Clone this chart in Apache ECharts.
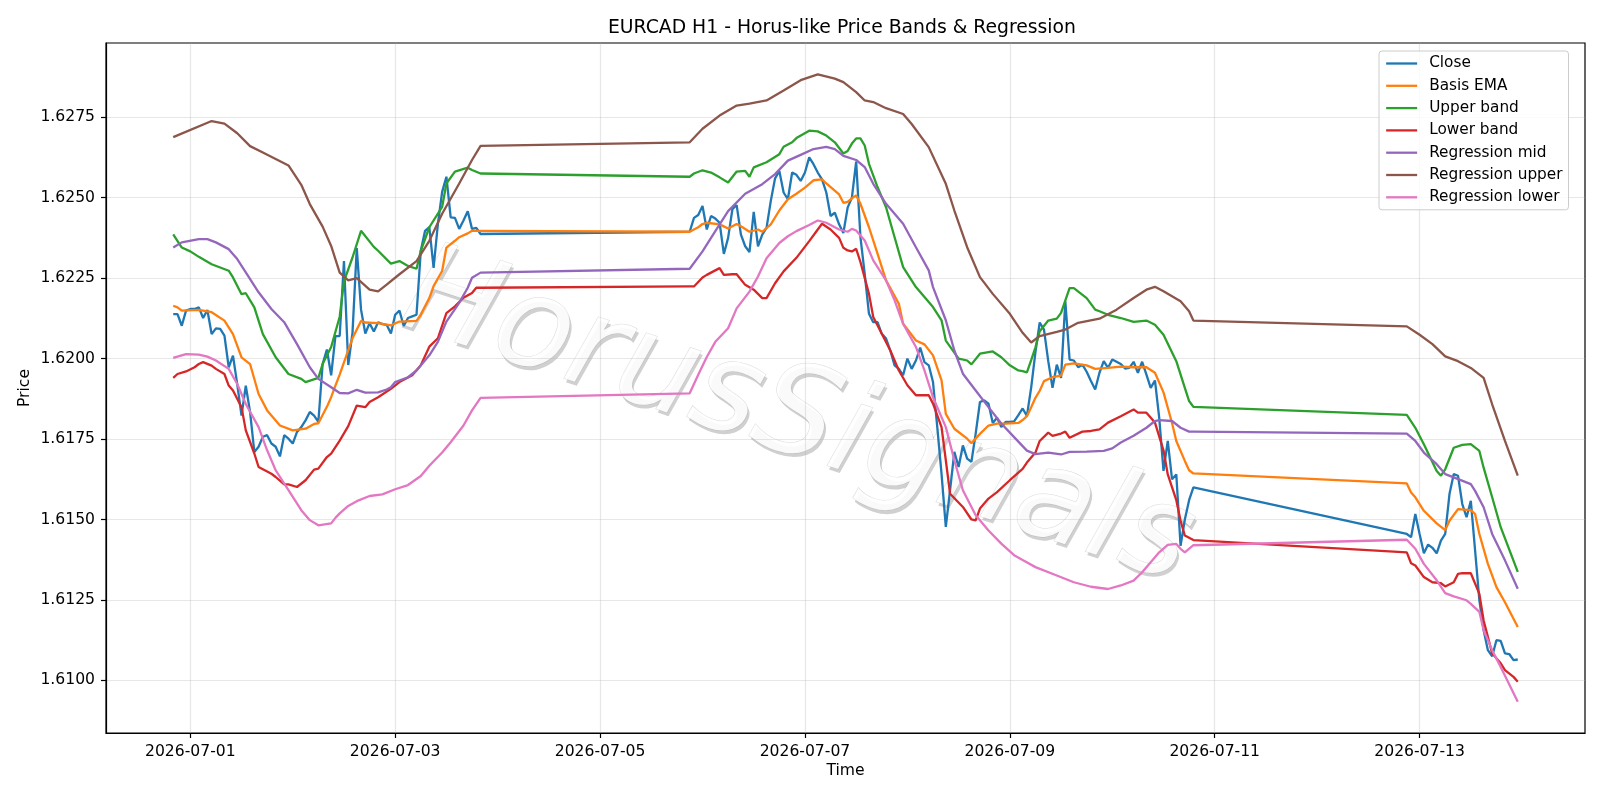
<!DOCTYPE html>
<html>
<head>
<meta charset="utf-8">
<title>EURCAD H1 - Horus-like Price Bands & Regression</title>
<script src="https://cdn.jsdelivr.net/npm/echarts@6/dist/echarts.min.js"></script>
<style>
  html, body { margin: 0; padding: 0; background: #fff; }
  #chart { width: 1600px; height: 800px; }
</style>
</head>
<body>
<div id="chart"></div>
<script>
// x values are hours counted from 2026-07-01 00:00
var xTickHours = [0, 48, 96, 144, 192, 240, 288];
var xTickLabels = ['2026-07-01', '2026-07-03', '2026-07-05', '2026-07-07', '2026-07-09', '2026-07-11', '2026-07-13'];
var yTicks = [1.6100, 1.6125, 1.6150, 1.6175, 1.6200, 1.6225, 1.6250, 1.6275];

// hourly closes, three trading blocks (weekends skipped)
var closeStart1 = -4;
var close1 = [1.62138, 1.62138, 1.62102, 1.62149, 1.62154, 1.62154, 1.62159, 1.62126, 1.62151, 1.62076,
  1.62094, 1.62092, 1.62071, 1.61973, 1.62009, 1.61920, 1.61823, 1.61916, 1.61834, 1.61710,
  1.61726, 1.61757, 1.61762, 1.61736, 1.61726, 1.61696, 1.61762, 1.61751, 1.61736, 1.61772,
  1.61787, 1.61808, 1.61834, 1.61823, 1.61803, 1.61983, 1.62028, 1.61948, 1.62070, 1.62070,
  1.62303, 1.61980, 1.62080, 1.62343, 1.62152, 1.62078, 1.62110, 1.62084, 1.62113, 1.62107,
  1.62105, 1.62078, 1.62136, 1.62149, 1.62101, 1.62126, 1.62131, 1.62136, 1.62335, 1.62397,
  1.62408, 1.62282, 1.62418, 1.62518, 1.62565, 1.62439, 1.62437, 1.62403, 1.62429, 1.62458,
  1.62403, 1.62406, 1.62387];
var closeStart2 = 117;
var close2 = [1.62394, 1.62437, 1.62446, 1.62474, 1.62401, 1.62443, 1.62435, 1.62422, 1.62325, 1.62375,
  1.62464, 1.62477, 1.62385, 1.62349, 1.62331, 1.62456, 1.62349, 1.62385, 1.62406, 1.62490,
  1.62560, 1.62583, 1.62516, 1.62495, 1.62578, 1.62571, 1.62552, 1.62578, 1.62625, 1.62604,
  1.62578, 1.62557, 1.62516, 1.62443, 1.62453, 1.62417, 1.62390, 1.62469, 1.62500, 1.62612,
  1.62377, 1.62263, 1.62139, 1.62113, 1.62113, 1.62077, 1.62062, 1.62025, 1.61979, 1.61968,
  1.61948, 1.62000, 1.61968, 1.61994, 1.62034, 1.61989, 1.61979, 1.61927, 1.61787, 1.61642,
  1.61477, 1.61591, 1.61710, 1.61663, 1.61730, 1.61689, 1.61679, 1.61767, 1.61865, 1.61870,
  1.61860, 1.61800, 1.61816, 1.61787, 1.61803, 1.61803, 1.61805, 1.61824, 1.61845, 1.61822,
  1.61910, 1.62020, 1.62112, 1.62090, 1.61992, 1.61909, 1.61981, 1.61940, 1.62178, 1.61997,
  1.61994, 1.61973, 1.61981, 1.61959, 1.61930, 1.61904, 1.61956, 1.61992, 1.61971, 1.61997,
  1.61990, 1.61983, 1.61969, 1.61971, 1.61990, 1.61956, 1.61990, 1.61950, 1.61909, 1.61932,
  1.61816, 1.61651, 1.61744, 1.61625, 1.61640, 1.61418, 1.61500, 1.61560, 1.61600];
var closeStart3 = 285;
var close3 = [1.61455, 1.61445, 1.61517, 1.61455, 1.61395, 1.61422, 1.61412, 1.61395, 1.61434, 1.61455,
  1.61579, 1.61641, 1.61636, 1.61548, 1.61507, 1.61558, 1.61404, 1.61249, 1.61156, 1.61094,
  1.61075, 1.61125, 1.61123, 1.61084, 1.61082, 1.61063, 1.61065];

// smoother lines, read as [hour, price]
var basisEma = [[-4,1.62164],[-3,1.62159],[-2,1.62149],[2,1.62151],[5,1.62144],[8,1.62118],[10,1.62076],[12,1.62004],
  [14,1.61983],[16,1.61890],[18,1.61839],[21,1.61792],[24,1.61777],[27,1.61782],[29,1.61797],[30,1.61799],
  [32,1.61850],[33,1.61880],[34,1.61916],[35,1.61950],[36,1.61988],[38,1.62063],[40,1.62117],[41,1.62112],
  [44,1.62110],[47,1.62103],[49,1.62115],[53,1.62117],[54,1.62136],[56,1.62188],[57,1.62225],[59,1.62272],
  [60,1.62345],[62,1.62366],[63,1.62377],[65,1.62389],[66,1.62397],[68,1.62397],
  [117,1.62394],[119,1.62408],[120,1.62418],[121,1.62422],[124,1.62417],[126,1.62404],[128,1.62418],[129,1.62411],
  [131,1.62394],[133,1.62401],[134,1.62394],[136,1.62417],[138,1.62460],[140,1.62495],[142,1.62512],[144,1.62531],
  [146,1.62554],[148,1.62557],[149,1.62544],[152,1.62510],[153,1.62484],[154,1.62487],[155,1.62498],[156,1.62507],
  [157,1.62481],[159,1.62408],[161,1.62326],[163,1.62243],[166,1.62170],[167,1.62108],[170,1.62056],[172,1.62044],
  [174,1.62010],[176,1.61932],[177,1.61828],[179,1.61782],[182,1.61751],[183,1.61737],[185,1.61766],[187,1.61792],
  [189,1.61798],[191,1.61798],[194,1.61800],[195,1.61809],[196,1.61821],[197,1.61849],[198,1.61878],[199,1.61900],
  [200,1.61930],[202,1.61942],[204,1.61947],[205,1.61981],[207,1.61985],[210,1.61979],[212,1.61968],[215,1.61971],
  [218,1.61975],[221,1.61973],[224,1.61973],[226,1.61956],[228,1.61895],[230,1.61800],[231,1.61744],[233,1.61682],
  [234,1.61653],[235,1.61643],
  [285,1.61612],[286,1.61584],[287,1.61569],[289,1.61527],[292,1.61488],[294,1.61467],[295,1.61496],[297,1.61532],
  [300,1.61529],[301,1.61517],[302,1.61455],[304,1.61362],[306,1.61290],[308,1.61243],[311,1.61166]];

var upperBand = [[-4,1.62386],[-2,1.62345],[0,1.62333],[2,1.62316],[5,1.62293],[7,1.62283],[9,1.62273],[10,1.62252],
  [12,1.62200],[13,1.62203],[15,1.62159],[17,1.62076],[20,1.62004],[23,1.61952],[26,1.61937],[27,1.61927],
  [30,1.61940],[31,1.61983],[33,1.62036],[35,1.62130],[36,1.62240],[38,1.62314],[40,1.62397],[43,1.62347],
  [44,1.62335],[47,1.62295],[49,1.62303],[51,1.62288],[53,1.62279],[54,1.62335],[56,1.62408],[59,1.62471],
  [60,1.62544],[62,1.62581],[65,1.62593],[66,1.62586],[68,1.62575],
  [117,1.62565],[118,1.62575],[120,1.62585],[122,1.62578],[124,1.62563],[126,1.62547],[128,1.62581],[130,1.62583],
  [131,1.62565],[132,1.62594],[135,1.62610],[138,1.62635],[139,1.62658],[141,1.62672],[142,1.62685],[145,1.62708],
  [147,1.62706],[149,1.62693],[151,1.62672],[153,1.62637],[154,1.62645],[155,1.62668],[156,1.62684],[157,1.62684],
  [158,1.62662],[159,1.62605],[161,1.62533],[163,1.62470],[165,1.62377],[167,1.62284],[170,1.62222],[172,1.62191],
  [174,1.62160],[176,1.62119],[177,1.62056],[180,1.62000],[182,1.61994],[183,1.61982],[185,1.62015],[188,1.62022],
  [190,1.62004],[192,1.61979],[194,1.61963],[195,1.61961],[196,1.61957],[197,1.61995],[198,1.62035],[199,1.62085],
  [201,1.62118],[203,1.62124],[204,1.62142],[206,1.62219],[207,1.62219],[210,1.62188],[212,1.62152],[213,1.62147],
  [215,1.62136],[218,1.62126],[221,1.62114],[224,1.62118],[226,1.62105],[228,1.62074],[231,1.61992],[233,1.61909],
  [234,1.61868],[235,1.61850],
  [285,1.61825],[287,1.61785],[289,1.61734],[292,1.61651],[293,1.61636],[294,1.61656],[296,1.61723],[298,1.61732],
  [300,1.61734],[302,1.61713],[303,1.61661],[305,1.61569],[307,1.61476],[311,1.61337]];

var lowerBand = [[-4,1.61940],[-3,1.61952],[-1,1.61960],[1,1.61973],[2,1.61983],[3,1.61989],[5,1.61978],[6,1.61968],
  [8,1.61952],[9,1.61916],[10,1.61901],[12,1.61849],[13,1.61777],[15,1.61705],[16,1.61663],[19,1.61642],
  [20,1.61632],[22,1.61609],[23,1.61609],[25,1.61601],[27,1.61622],[29,1.61655],[30,1.61658],[32,1.61694],
  [33,1.61705],[35,1.61745],[37,1.61790],[39,1.61854],[41,1.61849],[42,1.61865],[44,1.61880],[47,1.61906],
  [49,1.61927],[52,1.61948],[54,1.61979],[56,1.62037],[58,1.62063],[60,1.62141],[62,1.62162],[64,1.62189],
  [66,1.62204],[67,1.62220],[68,1.62220],
  [117,1.62224],[118,1.62224],[120,1.62252],[121,1.62260],[124,1.62281],[125,1.62260],[127,1.62262],[128,1.62262],
  [130,1.62229],[132,1.62214],[134,1.62188],[135,1.62188],[137,1.62234],[139,1.62271],[142,1.62313],[145,1.62365],
  [147,1.62401],[148,1.62419],[150,1.62401],[152,1.62375],[153,1.62344],[154,1.62336],[155,1.62333],[156,1.62341],
  [157,1.62300],[159,1.62201],[160,1.62129],[162,1.62077],[164,1.62025],[166,1.61963],[168,1.61917],[170,1.61886],
  [173,1.61886],[174,1.61860],[176,1.61787],[177,1.61684],[178,1.61580],[181,1.61539],[183,1.61500],[184,1.61497],
  [185,1.61534],[187,1.61565],[189,1.61585],[192,1.61622],[195,1.61657],[196,1.61677],[198,1.61708],[199,1.61744],
  [201,1.61770],[202,1.61760],[204,1.61767],[205,1.61773],[206,1.61754],[209,1.61773],[211,1.61775],[213,1.61780],
  [215,1.61801],[218,1.61821],[221,1.61842],[222,1.61832],[224,1.61832],[226,1.61801],[228,1.61715],[229,1.61640],
  [231,1.61560],[232,1.61496],[233,1.61450],[235,1.61436],
  [285,1.61398],[286,1.61364],[287,1.61357],[289,1.61321],[291,1.61305],[293,1.61302],[294,1.61292],[296,1.61305],
  [297,1.61331],[298,1.61333],[300,1.61333],[302,1.61269],[303,1.61186],[305,1.61084],[307,1.61053],[308,1.61032],
  [310,1.61011],[311,1.60996]];

var regMid = [[-4,1.62345],[-2,1.62361],[2,1.62371],[4,1.62371],[6,1.62361],[9,1.62340],[11,1.62309],[13,1.62268],
  [16,1.62206],[19,1.62154],[22,1.62113],[25,1.62045],[28,1.61973],[30,1.61937],[33,1.61911],[35,1.61893],
  [37,1.61892],[39,1.61903],[41,1.61894],[44,1.61895],[46,1.61904],[47,1.61911],[48,1.61927],[51,1.61942],
  [53,1.61963],[56,1.62010],[58,1.62052],[60,1.62115],[63,1.62173],[65,1.62220],[66,1.62251],[68,1.62267],
  [117,1.62279],[120,1.62333],[123,1.62396],[126,1.62458],[130,1.62512],[134,1.62542],[137,1.62573],[140,1.62615],
  [143,1.62633],[146,1.62651],[149,1.62658],[151,1.62651],[153,1.62630],[156,1.62617],[158,1.62595],[160,1.62543],
  [163,1.62481],[167,1.62419],[170,1.62346],[173,1.62274],[174,1.62222],[177,1.62119],[179,1.62025],[181,1.61953],
  [184,1.61901],[187,1.61849],[190,1.61798],[193,1.61756],[196,1.61714],[198,1.61703],[201,1.61708],[204,1.61702],
  [206,1.61710],[210,1.61711],[214,1.61713],[216,1.61721],[218,1.61739],[221,1.61760],[224,1.61785],[226,1.61806],
  [227,1.61809],[230,1.61806],[232,1.61785],[234,1.61773],[235,1.61773],
  [285,1.61767],[287,1.61744],[289,1.61708],[292,1.61672],[294,1.61641],[296,1.61631],[300,1.61610],[301,1.61589],
  [303,1.61538],[305,1.61455],[308,1.61373],[311,1.61285]];

var regUpper = [[-4,1.62688],[5,1.62738],[8,1.62730],[11,1.62700],[14,1.62660],[17,1.62640],[20,1.62620],[23,1.62600],
  [26,1.62540],[28,1.62480],[31,1.62410],[33,1.62350],[35,1.62267],[37,1.62243],[39,1.62250],[42,1.62214],
  [44,1.62209],[46,1.62230],[49,1.62262],[53,1.62303],[56,1.62366],[59,1.62450],[63,1.62544],[66,1.62617],
  [68,1.62661],
  [117,1.62672],[120,1.62714],[124,1.62755],[128,1.62786],[131,1.62792],[135,1.62802],[139,1.62833],[143,1.62865],
  [147,1.62883],[151,1.62870],[153,1.62859],[156,1.62828],[158,1.62802],[160,1.62797],[163,1.62778],[167,1.62760],
  [169,1.62729],[173,1.62657],[177,1.62543],[179,1.62460],[182,1.62346],[185,1.62253],[188,1.62201],[192,1.62139],
  [195,1.62080],[197,1.62050],[199,1.62070],[203,1.62083],[205,1.62090],[208,1.62111],[213,1.62124],[217,1.62152],
  [221,1.62188],[224,1.62214],[226,1.62223],[228,1.62209],[232,1.62178],[234,1.62147],[235,1.62118],
  [285,1.62100],[288,1.62074],[291,1.62045],[294,1.62007],[297,1.61992],[300,1.61971],[303,1.61940],[305,1.61858],
  [308,1.61744],[311,1.61636]];

var regLower = [[-4,1.62002],[-1,1.62014],[2,1.62012],[4,1.62006],[6,1.61994],[9,1.61968],[11,1.61921],[13,1.61859],
  [16,1.61787],[18,1.61715],[20,1.61653],[23,1.61591],[26,1.61529],[28,1.61498],[30,1.61482],[33,1.61488],
  [34,1.61505],[35,1.61519],[37,1.61542],[39,1.61557],[42,1.61573],[45,1.61578],[48,1.61594],[51,1.61607],
  [54,1.61635],[56,1.61667],[59,1.61708],[61,1.61740],[64,1.61792],[66,1.61839],[68,1.61878],
  [117,1.61892],[119,1.61950],[121,1.62005],[123,1.62052],[126,1.62094],[128,1.62156],[131,1.62208],[133,1.62255],
  [135,1.62312],[138,1.62359],[140,1.62380],[142,1.62396],[145,1.62415],[147,1.62429],[149,1.62422],[152,1.62401],
  [154,1.62394],[155,1.62403],[156,1.62398],[158,1.62367],[160,1.62305],[163,1.62243],[165,1.62181],[167,1.62108],
  [170,1.62036],[172,1.61963],[174,1.61880],[177,1.61787],[179,1.61684],[181,1.61591],[184,1.61513],[187,1.61466],
  [190,1.61425],[193,1.61389],[195,1.61374],[198,1.61352],[203,1.61326],[207,1.61305],[211,1.61291],[215,1.61284],
  [218,1.61295],[221,1.61310],[223,1.61336],[225,1.61367],[227,1.61398],[229,1.61421],[231,1.61424],[232,1.61409],
  [233,1.61398],[235,1.61420],
  [285,1.61437],[287,1.61409],[289,1.61362],[292,1.61311],[294,1.61271],[296,1.61261],[299,1.61249],[300,1.61238],
  [302,1.61213],[303,1.61156],[305,1.61094],[307,1.61042],[311,1.60934]];

function hourly(start, values) {
  return values.map(function (v, i) { return [start + i, v]; });
}
var closeData = hourly(closeStart1, close1).concat(hourly(closeStart2, close2), hourly(closeStart3, close3));

var FONT = 'DejaVu Sans';

function line(name, data, color) {
  return {
    name: name,
    type: 'line',
    data: data,
    symbol: 'none',
    showSymbol: false,
    lineStyle: { width: 2.3, color: color },
    itemStyle: { color: color },
    emphasis: { disabled: true },
    animation: false
  };
}

var chart = echarts.init(document.getElementById('chart'));
chart.setOption({
  animation: false,
  title: {
    text: 'EURCAD H1 - Horus-like Price Bands & Regression',
    left: 608,
    top: 19,
    padding: 0,
    textStyle: { fontFamily: FONT, fontSize: 18.8, fontWeight: 'normal', color: '#000' }
  },
  legend: {
    orient: 'vertical',
    left: 1379,
    top: 51,
    padding: [5, 6, 5, 6],
    itemWidth: 31,
    itemHeight: 14,
    itemGap: 7.3,
    backgroundColor: 'rgba(255,255,255,0.8)',
    borderColor: '#cccccc',
    borderWidth: 1,
    borderRadius: 3,
    itemStyle: { opacity: 0 },
    lineStyle: { width: 2.3 },
    textStyle: { fontFamily: FONT, fontSize: 15.3, lineHeight: 14, color: '#000', padding: [0, 0, 0, 7] }
  },
  grid: {
    left: 106, right: 15, top: 43, bottom: 67,
    show: true, borderColor: '#000', borderWidth: 1.2, backgroundColor: 'transparent'
  },
  xAxis: {
    type: 'value',
    min: -19.75,
    max: 326.75,
    name: 'Time',
    nameLocation: 'middle',
    nameGap: 30,
    nameMoveOverlap: false,
    nameTextStyle: { fontFamily: FONT, fontSize: 15.6, color: '#000' },
    axisLine: { show: true, onZero: false, lineStyle: { color: '#000', width: 1.2 } },
    axisTick: { show: true, customValues: xTickHours, length: 5, lineStyle: { color: '#000', width: 1.2 } },
    axisLabel: {
      customValues: xTickHours,
      margin: 11,
      fontFamily: FONT, fontSize: 15.6, color: '#000',
      formatter: function (v) { return xTickLabels[xTickHours.indexOf(v)] || ''; }
    },
    splitLine: { show: true, lineStyle: { color: '#b0b0b0', opacity: 0.3, width: 1.2 } }
  },
  yAxis: {
    type: 'value',
    min: 1.608366,
    max: 1.629805,
    name: 'Price',
    nameLocation: 'middle',
    nameGap: 73,
    nameMoveOverlap: false,
    nameTextStyle: { fontFamily: FONT, fontSize: 15.6, color: '#000' },
    axisLine: { show: true, onZero: false, lineStyle: { color: '#000', width: 1.2 } },
    axisTick: { show: true, customValues: yTicks, length: 5, lineStyle: { color: '#000', width: 1.2 } },
    axisLabel: {
      customValues: yTicks,
      margin: 11,
      fontFamily: FONT, fontSize: 15.6, color: '#000',
      formatter: function (v) { return v.toFixed(4); }
    },
    splitLine: { show: true, lineStyle: { color: '#b0b0b0', opacity: 0.3, width: 1.2 } }
  },
  graphic: [{
    type: 'group',
    x: 797,
    y: 421,
    rotation: -0.32,
    z: 1,
    silent: true,
    children: [{
      type: 'text',
      x: 3, y: 3,
      style: { text: 'HorusSignals', font: 'italic 126px "DejaVu Sans"', fill: 'rgba(120,120,120,0.35)', align: 'center', verticalAlign: 'middle' }
    }, {
      type: 'text',
      x: 0, y: 0,
      style: { text: 'HorusSignals', font: 'italic 126px "DejaVu Sans"', fill: 'rgba(255,255,255,0.9)', stroke: 'rgba(150,150,150,0.35)', lineWidth: 1, align: 'center', verticalAlign: 'middle' }
    }]
  }],
  series: [
    line('Close', closeData, '#1f77b4'),
    line('Basis EMA', basisEma, '#ff7f0e'),
    line('Upper band', upperBand, '#2ca02c'),
    line('Lower band', lowerBand, '#d62728'),
    line('Regression mid', regMid, '#9467bd'),
    line('Regression upper', regUpper, '#8c564b'),
    line('Regression lower', regLower, '#e377c2')
  ]
});
</script>
</body>
</html>
